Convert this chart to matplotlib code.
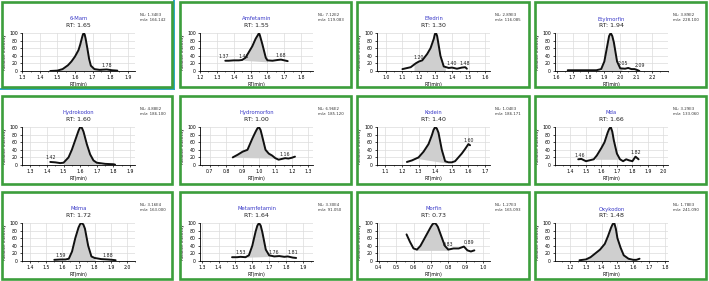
import matplotlib
matplotlib.use("Agg")
import matplotlib.pyplot as plt
from matplotlib.patches import Rectangle
from matplotlib.lines import Line2D
from matplotlib.ticker import AutoMinorLocator
import numpy as np

names = ["6-Mam", "Amfetamin", "Efedrin", "Etylmorfin",
         "Hydrokodon", "Hydromorfon", "Kodein", "Mda",
         "Mdma", "Metamfetamin", "Morfin", "Oxykodon"]
rt_labels = ["1.65", "1.55", "1.30", "1.94", "1.60", "1.00",
             "1.40", "1.66", "1.72", "1.64", "0.73", "1.48"]
nl_labels = ["1.34E3", "7.12E2", "2.89E3", "3.89E2", "4.88E2", "6.96E2",
             "1.04E3", "3.29E3", "3.16E4", "3.30E4", "1.27E3", "1.78E3"]
mz_labels = ["166.142", "119.083", "116.085", "228.100", "186.100", "185.120",
             "186.171", "133.060", "163.000", "91.050", "165.093", "241.090"]

x_limits = [(1.30, 1.94), (1.20, 1.87), (0.946, 1.63), (1.59, 2.30),
            (1.25, 1.93), (0.64, 1.33), (1.05, 1.73), (1.30, 2.03),
            (1.35, 2.05), (1.29, 1.96), (0.39, 1.04), (1.105, 1.82)]
x_ticks = [[1.3, 1.4, 1.5, 1.6, 1.7, 1.8, 1.9],
           [1.2, 1.3, 1.4, 1.5, 1.6, 1.7, 1.8],
           [1.0, 1.1, 1.2, 1.3, 1.4, 1.5, 1.6],
           [1.6, 1.7, 1.8, 1.9, 2.0, 2.1, 2.2],
           [1.3, 1.4, 1.5, 1.6, 1.7, 1.8, 1.9],
           [0.7, 0.8, 0.9, 1.0, 1.1, 1.2, 1.3],
           [1.1, 1.2, 1.3, 1.4, 1.5, 1.6, 1.7],
           [1.4, 1.5, 1.6, 1.7, 1.8, 1.9, 2.0],
           [1.4, 1.5, 1.6, 1.7, 1.8, 1.9, 2.0],
           [1.3, 1.4, 1.5, 1.6, 1.7, 1.8, 1.9],
           [0.4, 0.5, 0.6, 0.7, 0.8, 0.9, 1.0],
           [1.2, 1.3, 1.4, 1.5, 1.6, 1.7, 1.8]]

curve_x = [
    [1.46, 1.50, 1.53, 1.56, 1.58, 1.60, 1.62, 1.63, 1.64, 1.645, 1.65, 1.655, 1.66, 1.67, 1.68, 1.69, 1.71, 1.74, 1.78, 1.81, 1.84],
    [1.35, 1.37, 1.40, 1.43, 1.45, 1.47, 1.49, 1.51, 1.53, 1.545, 1.55, 1.555, 1.57, 1.59, 1.60, 1.63, 1.66, 1.68, 1.70, 1.72],
    [1.10, 1.15, 1.18, 1.20, 1.22, 1.25, 1.27, 1.29, 1.295, 1.30, 1.305, 1.31, 1.33, 1.35, 1.38, 1.40, 1.43, 1.46, 1.48, 1.49],
    [1.67, 1.72, 1.78, 1.85, 1.88, 1.90, 1.92, 1.93, 1.94, 1.95, 1.96, 1.98, 2.00, 2.03, 2.05, 2.07, 2.09, 2.11, 2.12],
    [1.42, 1.45, 1.48, 1.50, 1.53, 1.55, 1.57, 1.59, 1.60, 1.61, 1.62, 1.64, 1.66, 1.68, 1.70, 1.75, 1.80, 1.81],
    [0.84, 0.87, 0.90, 0.93, 0.96, 0.98, 0.99, 1.00, 1.01, 1.02, 1.04, 1.06, 1.08, 1.10, 1.12, 1.14, 1.16, 1.18, 1.20, 1.22],
    [1.23, 1.26, 1.30, 1.33, 1.36, 1.38, 1.39, 1.40, 1.41, 1.42, 1.44, 1.46, 1.48, 1.50, 1.52, 1.54, 1.56, 1.58, 1.60, 1.61],
    [1.45, 1.47, 1.50, 1.52, 1.55, 1.57, 1.60, 1.62, 1.64, 1.65, 1.66, 1.67, 1.68, 1.70, 1.72, 1.74, 1.76, 1.78, 1.80, 1.82, 1.84],
    [1.55, 1.59, 1.62, 1.64, 1.66, 1.68, 1.70, 1.71, 1.72, 1.73, 1.74, 1.76, 1.78, 1.80, 1.84, 1.88, 1.91, 1.93],
    [1.48, 1.51, 1.53, 1.56, 1.58, 1.60, 1.62, 1.63, 1.64, 1.65, 1.66, 1.68, 1.70, 1.73, 1.76, 1.79, 1.81, 1.84, 1.86],
    [0.56, 0.58, 0.60, 0.62, 0.64, 0.67, 0.70, 0.71, 0.72, 0.73, 0.74, 0.76, 0.78, 0.80, 0.83, 0.86, 0.89, 0.91, 0.93, 0.95],
    [1.26, 1.30, 1.33, 1.36, 1.39, 1.42, 1.44, 1.46, 1.47, 1.48, 1.49, 1.50, 1.52, 1.54, 1.57, 1.60, 1.62, 1.64],
]
curve_y = [
    [0, 1, 5, 15, 25, 38, 55, 70, 88, 96, 100, 96, 86, 60, 32, 14, 5, 3, 4, 2, 1],
    [27, 27, 28, 28, 29, 35, 50, 65, 85, 96, 100, 94, 70, 35, 28, 27, 29, 30, 28, 26],
    [5, 10, 20, 25, 28, 45, 60, 85, 95, 100, 98, 92, 40, 12, 8, 9, 6, 9, 10, 6],
    [2, 2, 2, 2, 5, 25, 70, 92, 100, 92, 75, 25, 7, 6, 8, 5, 5, 2, 0],
    [8, 7, 5, 6, 20, 40, 65, 90, 100, 98, 88, 55, 28, 12, 6, 3, 2, 1],
    [20, 27, 35, 40, 70, 88, 96, 100, 92, 75, 40, 30, 25, 18, 14, 16, 18, 17, 19, 22],
    [8, 12, 20, 35, 55, 78, 92, 100, 96, 85, 40, 10, 7, 7, 10, 20, 30, 42, 55, 52],
    [15, 16, 10, 12, 15, 25, 45, 60, 85, 95, 100, 88, 65, 30, 15, 10, 15, 12, 10, 22, 15],
    [3, 4, 4, 6, 25, 60, 88, 97, 100, 96, 85, 40, 12, 8, 5, 4, 3, 2],
    [10, 10, 11, 10, 15, 40, 78, 93, 100, 93, 75, 30, 15, 12, 13, 11, 12, 9, 8],
    [70, 50, 33, 30, 40, 65, 90, 97, 100, 97, 90, 65, 40, 30, 33, 33, 38, 28, 25, 28],
    [2, 4, 10, 20, 30, 45, 65, 88, 97, 100, 85, 60, 35, 15, 6, 3, 3, 6],
]
fill_start = [1.50, 1.46, 1.17, 1.88, 1.50, 0.85, 1.28, 1.56, 1.63, 1.57, 0.61, 1.30]
fill_end = [1.75, 1.60, 1.36, 2.01, 1.72, 1.10, 1.47, 1.72, 1.80, 1.71, 0.80, 1.58]
fill_base_start = [0, 28, 0, 0, 0, 20, 18, 15, 0, 10, 28, 0]
fill_base_end = [0, 24, 0, 0, 0, 18, 5, 15, 0, 12, 28, 0]
minor_peaks = [[1.78], [1.37, 1.43, 1.68], [1.20, 1.40, 1.48], [2.05, 2.09],
               [1.42], [1.16], [1.60], [1.46, 1.82],
               [1.59, 1.88], [1.53, 1.76, 1.81], [0.83, 0.89], []]

W, H = 709, 281
fig = plt.figure(figsize=(W / 100, H / 100), dpi=100)
fig.patch.set_facecolor("white")

col_x = [2, 180, 357, 535]
col_w = [170, 171, 172, 171]
row_y = [2, 96, 192]
row_h = [85, 88, 87]
green = "#3c9e3c"


def fx(px):
    return px / W


def fy(py):
    return 1 - py / H


for i in range(12):
    r, c = divmod(i, 4)
    px, py, pw, ph = col_x[c], row_y[r], col_w[c], row_h[r]
    fig.patches.append(Rectangle((fx(px), fy(py + ph)), pw / W, ph / H,
                                 transform=fig.transFigure, fill=False,
                                 edgecolor=green, linewidth=1.9, zorder=5))
    ax_left, ax_w = px + 20, 113
    ax_top, ax_bot = py + 31, py + 69
    ax = fig.add_axes([fx(ax_left), fy(ax_bot), ax_w / W, (ax_bot - ax_top) / H])
    xs = np.array(curve_x[i])
    ys = np.array(curve_y[i])
    ax.set_xlim(*x_limits[i])
    ax.set_ylim(0, 100)
    ax.set_xticks(x_ticks[i])
    ax.set_xticklabels([f"{t:.1f}" for t in x_ticks[i]])
    ax.set_yticks([0, 20, 40, 60, 80, 100])
    ax.xaxis.set_minor_locator(AutoMinorLocator(2))
    ax.grid(True, color="#dcdcdc", linewidth=0.5)
    ax.set_axisbelow(True)
    for s in ["top", "right"]:
        ax.spines[s].set_visible(False)
    for s in ["left", "bottom"]:
        ax.spines[s].set_linewidth(0.6)
    ax.tick_params(axis="both", labelsize=3.3, length=1.5, width=0.5, pad=1.5)
    ax.tick_params(axis="x", which="minor", length=1.0, width=0.4)
    # shaded peak area
    a, b = fill_start[i], fill_end[i]
    sel = (xs > a) & (xs < b)
    fxs = np.concatenate([[a], xs[sel], [b]])
    fys = np.interp(fxs, xs, ys)
    base = np.interp(fxs, [a, b], [fill_base_start[i], fill_base_end[i]])
    ax.fill_between(fxs, base, fys, color="#cfcfcf", linewidth=0, zorder=2)
    ax.plot(xs, ys, color="#111111", linewidth=1.4, zorder=3,
            solid_joinstyle="round", solid_capstyle="round")
    mps = minor_peaks[i]
    span = x_limits[i][1] - x_limits[i][0]
    for k, mp in enumerate(mps):
        yv = np.interp(mp, xs, ys)
        ha = "center"
        close_next = k + 1 < len(mps) and (mps[k + 1] - mp) / span < 0.095
        close_prev = k > 0 and (mp - mps[k - 1]) / span < 0.095
        if close_next:
            ha = "right"
        elif close_prev:
            ha = "left"
        ax.text(mp, yv + 4, f"{mp:.2f}", fontsize=3.4, ha=ha,
                va="bottom", color="#222222", zorder=4)
    ax.set_ylabel("Relative Intensity", fontsize=3.0, labelpad=1.5)
    ax.set_xlabel("RT(min)", fontsize=3.3, labelpad=1.0)
    cx = ax_left + ax_w / 2
    fig.text(fx(cx), fy(py + 17), names[i], fontsize=3.8, color="#3a3ac8",
             ha="center", va="center")
    fig.text(fx(cx), fy(py + 23.5), f"RT: {rt_labels[i]}", fontsize=4.5,
             color="#222222", ha="center", va="center")
    fig.text(fx(px + 138), fy(py + 13), f"NL: {nl_labels[i]}", fontsize=2.8,
             color="#333333", ha="left", va="center")
    fig.text(fx(px + 138), fy(py + 18), f"m/z: {mz_labels[i]}", fontsize=2.8,
             color="#333333", ha="left", va="center")

# selection highlight around the first panel
fig.lines.append(Line2D([fx(174), fx(174)], [fy(0), fy(89)],
                        transform=fig.transFigure, color="#2aa6c8", linewidth=1.4))
fig.lines.append(Line2D([fx(0), fx(174)], [fy(89), fy(89)],
                        transform=fig.transFigure, color="#2aa6c8", linewidth=1.4))

fig.savefig("out.png", dpi=100, facecolor="white")
